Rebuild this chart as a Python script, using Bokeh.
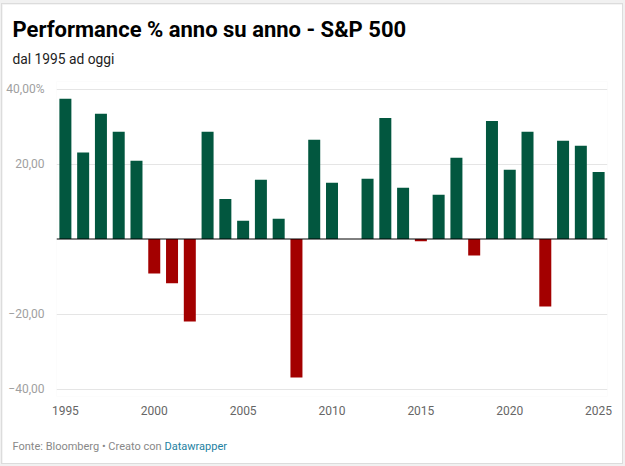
from bokeh.plotting import figure
from bokeh.models import Range1d, FixedTicker, Span, ColumnDataSource, Title
from bokeh.layouts import column
from bokeh.embed import file_html
from bokeh.resources import INLINE

years = list(range(1995, 2026))
values = [37.4, 23.1, 33.4, 28.6, 20.9, -9.2, -11.8, -22.0, 28.6, 10.7,
          4.9, 15.8, 5.4, -36.9, 26.5, 15.0, 0.0, 16.1, 32.3, 13.7,
          -0.6, 11.8, 21.7, -4.4, 31.5, 18.5, 28.6, -18.0, 26.2, 24.9, 17.9]
x_ticks = [1995, 2000, 2005, 2010, 2015, 2020, 2025]
y_ticks = [-40, -20, 20, 40]
y_tick_labels = {-40: "\u221240,00", -20: "\u221220,00", 0: "", 20: "20,00", 40: "40,00%"}

title_text = "Performance % anno su anno - S&P 500"
subtitle_text = "dal 1995 ad oggi"
footer_text = "Fonte: Bloomberg \u2022 Creato con"
footer_link = "Datawrapper"

GREEN = "#02573f"
RED = "#a30000"
FONT = "Roboto"

# figure sits inside a light-grey page, at (2,4) with size 620x459
FW, FH = 620, 459
ML, MR, MT, MB = 54, 15, 77, 67

colors = [GREEN if v >= 0 else RED for v in values]
src = ColumnDataSource(dict(x=years, top=values, color=colors))

p = figure(width=FW, height=FH, output_backend="svg", toolbar_location=None,
           x_range=Range1d(1994.5, 2025.5), y_range=Range1d(-42, 42),
           min_border_left=ML, min_border_right=MR, min_border_top=MT, min_border_bottom=MB,
           margin=(4, 3, 3, 2), styles={"outline": "1px solid #dcdcdc"})
p.border_fill_color = "white"
p.background_fill_color = "white"
p.outline_line_color = None

p.vbar(x="x", top="top", bottom=0, width=0.675, fill_color="color", line_color=None, source=src)

p.xgrid.visible = False
p.ygrid.ticker = FixedTicker(ticks=y_ticks)
p.ygrid.grid_line_color = "#e5e5e5"
p.ygrid.grid_line_width = 1

p.add_layout(Span(location=0, dimension="width", line_color="#000000", line_width=1))

for ax in (p.xaxis[0], p.yaxis[0]):
    ax.axis_line_color = None
    ax.major_tick_line_color = None
    ax.minor_tick_line_color = None
    ax.major_label_text_font = FONT
    ax.major_label_text_font_size = "12px"

p.xaxis.ticker = FixedTicker(ticks=x_ticks)
p.xaxis.major_label_text_color = "#666666"
p.xaxis.major_label_standoff = 3

p.yaxis.ticker = FixedTicker(ticks=[-40, -20, 0, 20, 40])
p.yaxis.major_label_overrides = y_tick_labels
p.yaxis.major_label_text_color = "#a0a0a0"
p.yaxis.major_label_standoff = 6

sub = Title(text=subtitle_text, align="left", offset=10 - ML, standoff=29,
            text_font=FONT, text_font_size="13.8px", text_font_style="normal", text_color="#222222")
ttl = Title(text=title_text, align="left", offset=10 - ML, standoff=-14,
            text_font=FONT, text_font_size="22px", text_font_style="bold", text_color="#000000")
p.add_layout(sub, "above")
p.add_layout(ttl, "above")

spacer = Title(text=" ", align="left", standoff=14, text_font=FONT, text_font_size="11px")
foot = Title(text=footer_text, align="left", offset=10 - ML, standoff=-15, vertical_align="middle",
             text_font=FONT, text_font_size="11px", text_font_style="normal", text_color="#888888")
link = Title(text=footer_link, align="left", offset=162 - ML, standoff=-15, vertical_align="middle",
             text_font=FONT, text_font_size="11px", text_font_style="normal", text_color="#1d81a2")
p.add_layout(spacer, "below")
p.add_layout(foot, "below")
p.add_layout(link, "below")

page = column(p, styles={"background-color": "#f1f1f1"})
open("out.html", "w").write(file_html(page, INLINE))
